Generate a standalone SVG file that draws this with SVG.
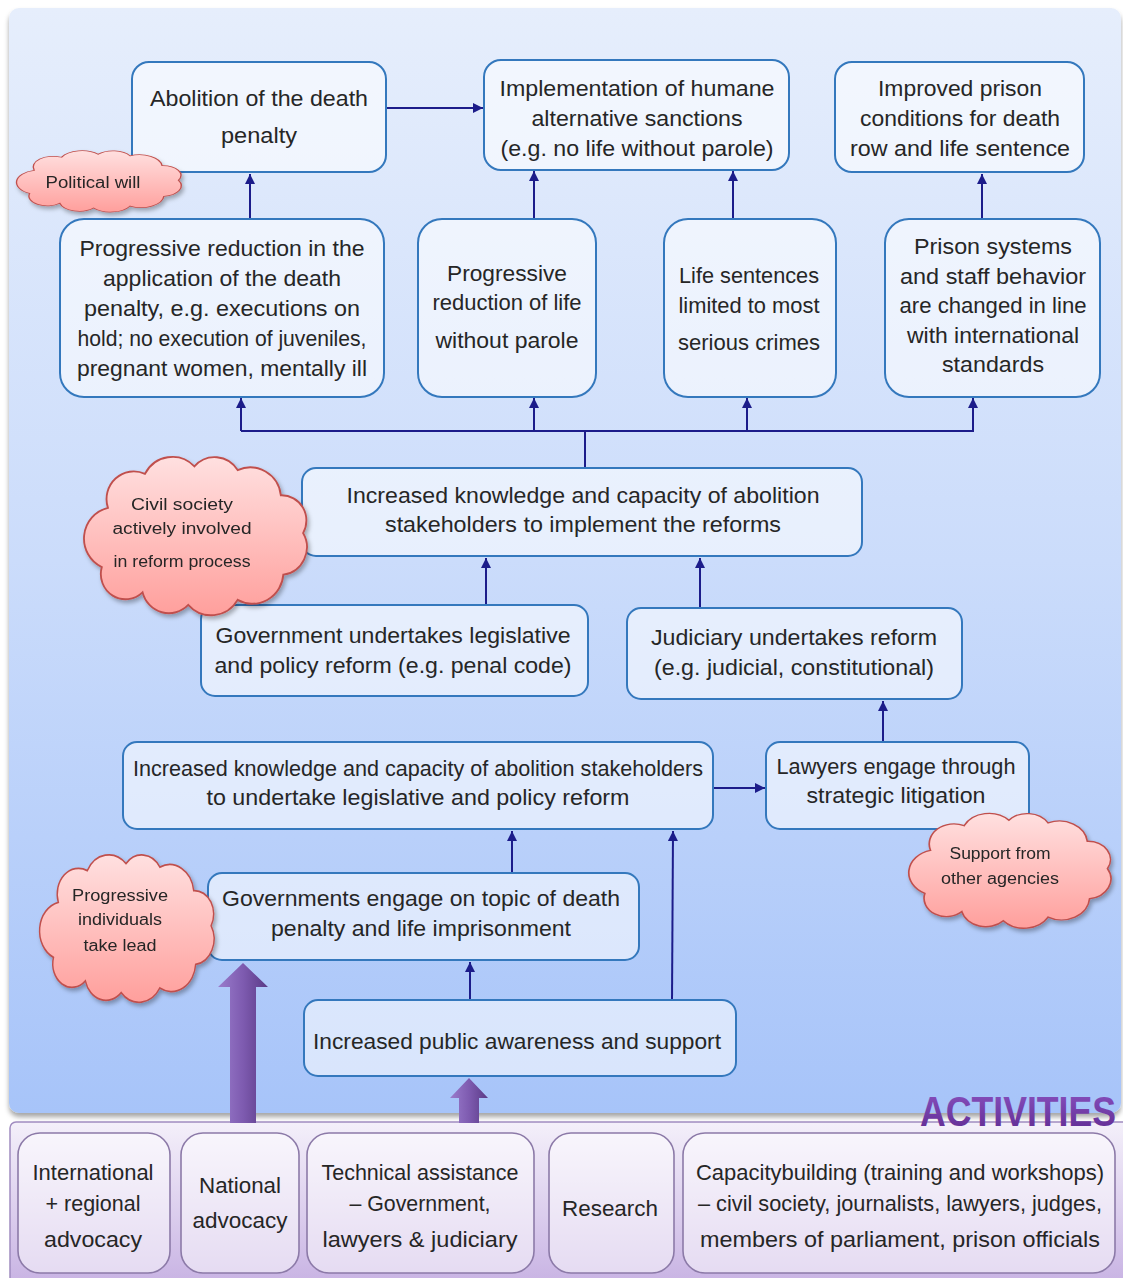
<svg xmlns="http://www.w3.org/2000/svg" width="1123" height="1278" viewBox="0 0 1123 1278">
<defs>
  <linearGradient id="gPanel" x1="0" y1="0" x2="0" y2="1">
    <stop offset="0" stop-color="#e6eefc"/>
    <stop offset="0.5" stop-color="#cbdcfb"/>
    <stop offset="1" stop-color="#a7c4f9"/>
  </linearGradient>
  <linearGradient id="gAct" x1="0" y1="0" x2="0" y2="1">
    <stop offset="0" stop-color="#f4f0fa"/>
    <stop offset="1" stop-color="#c6b0e2"/>
  </linearGradient>
  <linearGradient id="gCloud" x1="0" y1="0" x2="0" y2="1">
    <stop offset="0" stop-color="#ffe0e0"/>
    <stop offset="1" stop-color="#ff9f9c"/>
  </linearGradient>
  <linearGradient id="gBig" x1="0" y1="0" x2="1" y2="0">
    <stop offset="0" stop-color="#9a7ccc"/>
    <stop offset="0.5" stop-color="#7e5bb0"/>
    <stop offset="1" stop-color="#5a3a86"/>
  </linearGradient>
  <linearGradient id="gTitle" x1="0" y1="0" x2="0" y2="1">
    <stop offset="0" stop-color="#8a52c0"/>
    <stop offset="1" stop-color="#5e2a90"/>
  </linearGradient>
  <filter id="shadow" x="-10%" y="-10%" width="120%" height="130%">
    <feDropShadow dx="2" dy="3" stdDeviation="2" flood-color="#000" flood-opacity="0.3"/>
  </filter>
  <filter id="pshadow" x="-2%" y="-2%" width="104%" height="104%">
    <feDropShadow dx="0" dy="4" stdDeviation="2.5" flood-color="#000" flood-opacity="0.35"/>
  </filter>
  <marker id="ah" viewBox="0 0 10 10" refX="10" refY="5" markerWidth="5" markerHeight="5" orient="auto" markerUnits="strokeWidth">
    <path d="M0,0 L10,5 L0,10 z" fill="#1c1c8a"/>
  </marker>
  <path id="cloud" d="M30,45 A22,22 0 0 1 60,18 A25,25 0 0 1 100,12 A22,22 0 0 1 135,15 A25,25 0 0 1 170,35 A20,20 0 0 1 188,65 A22,22 0 0 1 172,98 A25,25 0 0 1 135,118 A25,25 0 0 1 95,122 A22,22 0 0 1 58,112 A20,20 0 0 1 25,92 A25,25 0 0 1 30,45 Z"/>
  <style>
    .box { fill: #ffffff; fill-opacity: 0.55; stroke: #3478bd; stroke-width: 2; }
    .act { fill: #ffffff; fill-opacity: 0.5; stroke: #8c7aa8; stroke-width: 1.6; }
    .cloud { fill: url(#gCloud); stroke: #c0504d; stroke-width: 1.5; }
    .t { font-family: "Liberation Sans", Arial, sans-serif; font-size: 22px; fill: #262626; text-anchor: middle; }
    .c { font-family: "Liberation Sans", Arial, sans-serif; font-size: 16px; fill: #262626; text-anchor: middle; }
    .conn line, .conn path { stroke: #1c1c8a; stroke-width: 2; fill: none; }
  </style>
</defs>

<!-- background panels -->
<rect x="0" y="0" width="1123" height="1278" fill="#ffffff"/>
<rect x="9" y="8" width="1112" height="1105" rx="10" fill="url(#gPanel)" filter="url(#pshadow)"/>
<rect x="10" y="1122" width="1123" height="170" rx="6" fill="url(#gAct)" stroke="#a08cc0" stroke-width="1.5"/>
<text x="1116" y="1126" font-family="Liberation Sans, Arial, sans-serif" font-size="42" font-weight="bold" fill="url(#gTitle)" text-anchor="end" textLength="196" lengthAdjust="spacingAndGlyphs">ACTIVITIES</text>

<!-- connectors -->
<g id="connectors" class="conn">
  <line x1="386" y1="108" x2="483" y2="108" marker-end="url(#ah)"/>
  <line x1="250" y1="220" x2="250" y2="174" marker-end="url(#ah)"/>
  <line x1="534" y1="220" x2="534" y2="171" marker-end="url(#ah)"/>
  <line x1="733" y1="220" x2="733" y2="171" marker-end="url(#ah)"/>
  <line x1="982" y1="220" x2="982" y2="174" marker-end="url(#ah)"/>
  <path d="M585,468 V431 M241,431 H973"/>
  <line x1="241" y1="431" x2="241" y2="398" marker-end="url(#ah)"/>
  <line x1="534" y1="431" x2="534" y2="398" marker-end="url(#ah)"/>
  <line x1="747" y1="431" x2="747" y2="398" marker-end="url(#ah)"/>
  <line x1="973" y1="432" x2="973" y2="398" marker-end="url(#ah)"/>
  <line x1="486" y1="606" x2="486" y2="558" marker-end="url(#ah)"/>
  <line x1="700" y1="608" x2="700" y2="558" marker-end="url(#ah)"/>
  <line x1="883" y1="742" x2="883" y2="701" marker-end="url(#ah)"/>
  <line x1="713" y1="788" x2="765" y2="788" marker-end="url(#ah)"/>
  <line x1="512" y1="873" x2="512" y2="831" marker-end="url(#ah)"/>
  <line x1="672" y1="1000" x2="673" y2="831" marker-end="url(#ah)"/>
  <line x1="470" y1="1000" x2="470" y2="962" marker-end="url(#ah)"/>
  <polygon points="243,963 268,987 256,987 256,1123 230,1123 230,987 218,987" fill="url(#gBig)" stroke="none"/>
  <polygon points="469,1078 488,1098 479,1098 479,1123 459,1123 459,1098 450,1098" fill="url(#gBig)" stroke="none"/>
</g>

<!-- outcome nodes -->
<g id="n-abolition">
  <rect class="box" x="132" y="62" width="254" height="110" rx="17"/>
  <text class="t" x="259" y="106" textLength="218" lengthAdjust="spacingAndGlyphs">Abolition of the death</text>
  <text class="t" x="259" y="143" textLength="76" lengthAdjust="spacingAndGlyphs">penalty</text>
</g>
<g id="n-implementation">
  <rect class="box" x="484" y="60" width="305" height="110" rx="17"/>
  <text class="t" x="637" y="96" textLength="275" lengthAdjust="spacingAndGlyphs">Implementation of humane</text>
  <text class="t" x="637" y="126" textLength="211" lengthAdjust="spacingAndGlyphs">alternative sanctions</text>
  <text class="t" x="637" y="156" textLength="273" lengthAdjust="spacingAndGlyphs">(e.g. no life without parole)</text>
</g>
<g id="n-improved">
  <rect class="box" x="835" y="62" width="249" height="110" rx="17"/>
  <text class="t" x="960" y="96" textLength="164" lengthAdjust="spacingAndGlyphs">Improved prison</text>
  <text class="t" x="960" y="126" textLength="200" lengthAdjust="spacingAndGlyphs">conditions for death</text>
  <text class="t" x="960" y="156" textLength="220" lengthAdjust="spacingAndGlyphs">row and life sentence</text>
</g>
<g id="n-reduction-dp">
  <rect class="box" x="60" y="219" width="324" height="178" rx="24"/>
  <text class="t" x="222" y="256" textLength="285" lengthAdjust="spacingAndGlyphs">Progressive reduction in the</text>
  <text class="t" x="222" y="286" textLength="238" lengthAdjust="spacingAndGlyphs">application of the death</text>
  <text class="t" x="222" y="316" textLength="276" lengthAdjust="spacingAndGlyphs">penalty, e.g. executions on</text>
  <text class="t" x="222" y="346" textLength="289" lengthAdjust="spacingAndGlyphs">hold; no execution of juveniles,</text>
  <text class="t" x="222" y="376" textLength="290" lengthAdjust="spacingAndGlyphs">pregnant women, mentally ill</text>
</g>
<g id="n-reduction-life">
  <rect class="box" x="418" y="219" width="178" height="178" rx="24"/>
  <text class="t" x="507" y="281" textLength="120" lengthAdjust="spacingAndGlyphs">Progressive</text>
  <text class="t" x="507" y="310" textLength="149" lengthAdjust="spacingAndGlyphs">reduction of life</text>
  <text class="t" x="507" y="348" textLength="143" lengthAdjust="spacingAndGlyphs">without parole</text>
</g>
<g id="n-life-sentences">
  <rect class="box" x="664" y="219" width="172" height="178" rx="24"/>
  <text class="t" x="749" y="283" textLength="140" lengthAdjust="spacingAndGlyphs">Life sentences</text>
  <text class="t" x="749" y="313" textLength="141" lengthAdjust="spacingAndGlyphs">limited to most</text>
  <text class="t" x="749" y="350" textLength="142" lengthAdjust="spacingAndGlyphs">serious crimes</text>
</g>
<g id="n-prison-systems">
  <rect class="box" x="885" y="219" width="215" height="178" rx="24"/>
  <text class="t" x="993" y="254" textLength="158" lengthAdjust="spacingAndGlyphs">Prison systems</text>
  <text class="t" x="993" y="284" textLength="186" lengthAdjust="spacingAndGlyphs">and staff behavior</text>
  <text class="t" x="993" y="313" textLength="187" lengthAdjust="spacingAndGlyphs">are changed in line</text>
  <text class="t" x="993" y="343" textLength="172" lengthAdjust="spacingAndGlyphs">with international</text>
  <text class="t" x="993" y="372" textLength="102" lengthAdjust="spacingAndGlyphs">standards</text>
</g>
<g id="n-capacity-reforms">
  <rect class="box" x="302" y="468" width="560" height="88" rx="14"/>
  <text class="t" x="583" y="503" textLength="473" lengthAdjust="spacingAndGlyphs">Increased knowledge and capacity of abolition</text>
  <text class="t" x="583" y="532" textLength="396" lengthAdjust="spacingAndGlyphs">stakeholders to implement the reforms</text>
</g>
<g id="n-government">
  <rect class="box" x="201" y="605" width="387" height="91" rx="14"/>
  <text class="t" x="393" y="643" textLength="355" lengthAdjust="spacingAndGlyphs">Government undertakes legislative</text>
  <text class="t" x="393" y="673" textLength="357" lengthAdjust="spacingAndGlyphs">and policy reform (e.g. penal code)</text>
</g>
<g id="n-judiciary">
  <rect class="box" x="627" y="608" width="335" height="91" rx="14"/>
  <text class="t" x="794" y="645" textLength="286" lengthAdjust="spacingAndGlyphs">Judiciary undertakes reform</text>
  <text class="t" x="794" y="675" textLength="280" lengthAdjust="spacingAndGlyphs">(e.g. judicial, constitutional)</text>
</g>
<g id="n-capacity-legislative">
  <rect class="box" x="123" y="742" width="590" height="87" rx="14"/>
  <text class="t" x="418" y="776" textLength="570" lengthAdjust="spacingAndGlyphs">Increased knowledge and capacity of abolition stakeholders</text>
  <text class="t" x="418" y="805" textLength="423" lengthAdjust="spacingAndGlyphs">to undertake legislative and policy reform</text>
</g>
<g id="n-lawyers">
  <rect class="box" x="766" y="742" width="263" height="87" rx="14"/>
  <text class="t" x="896" y="774" textLength="239" lengthAdjust="spacingAndGlyphs">Lawyers engage through</text>
  <text class="t" x="896" y="803" textLength="179" lengthAdjust="spacingAndGlyphs">strategic litigation</text>
</g>
<g id="n-governments-engage">
  <rect class="box" x="208" y="873" width="431" height="87" rx="14"/>
  <text class="t" x="421" y="906" textLength="398" lengthAdjust="spacingAndGlyphs">Governments engage on topic of death</text>
  <text class="t" x="421" y="936" textLength="300" lengthAdjust="spacingAndGlyphs">penalty and life imprisonment</text>
</g>
<g id="n-public">
  <rect class="box" x="304" y="1000" width="432" height="76" rx="14"/>
  <text class="t" x="517" y="1049" textLength="408" lengthAdjust="spacingAndGlyphs">Increased public awareness and support</text>
</g>

<!-- assumption clouds -->
<g id="cloud-political-will" filter="url(#shadow)">
  <use href="#cloud" class="cloud" transform="translate(6.8,148.5) scale(0.913,0.488)"/>
  <text class="c" x="93" y="188" textLength="95" lengthAdjust="spacingAndGlyphs">Political will</text>
</g>
<g id="cloud-civil-society" filter="url(#shadow)">
  <use href="#cloud" class="cloud" transform="translate(70.9,451.2) scale(1.235,1.26)"/>
  <text class="c" x="182" y="510" textLength="102" lengthAdjust="spacingAndGlyphs">Civil society</text>
  <text class="c" x="182" y="534" textLength="139" lengthAdjust="spacingAndGlyphs">actively involved</text>
  <text class="c" x="182" y="567" textLength="137" lengthAdjust="spacingAndGlyphs">in reform process</text>
</g>
<g id="cloud-support" filter="url(#shadow)">
  <use href="#cloud" class="cloud" transform="translate(896.9,809.3) scale(1.12,0.913)"/>
  <text class="c" x="1000" y="859" textLength="101" lengthAdjust="spacingAndGlyphs">Support from</text>
  <text class="c" x="1000" y="884" textLength="118" lengthAdjust="spacingAndGlyphs">other agencies</text>
</g>
<g id="cloud-progressive" filter="url(#shadow)">
  <use href="#cloud" class="cloud" transform="translate(29.3,849.5) scale(0.967,1.173)"/>
  <text class="c" x="120" y="901" textLength="96" lengthAdjust="spacingAndGlyphs">Progressive</text>
  <text class="c" x="120" y="925" textLength="84" lengthAdjust="spacingAndGlyphs">individuals</text>
  <text class="c" x="120" y="951" textLength="73" lengthAdjust="spacingAndGlyphs">take lead</text>
</g>

<!-- activities -->
<g id="a-international">
  <rect class="act" x="18" y="1133" width="152" height="140" rx="22"/>
  <text class="t" x="93" y="1180" textLength="121" lengthAdjust="spacingAndGlyphs">International</text>
  <text class="t" x="93" y="1211" textLength="95" lengthAdjust="spacingAndGlyphs">+ regional</text>
  <text class="t" x="93" y="1247" textLength="98" lengthAdjust="spacingAndGlyphs">advocacy</text>
</g>
<g id="a-national">
  <rect class="act" x="181" y="1133" width="118" height="140" rx="22"/>
  <text class="t" x="240" y="1193" textLength="82" lengthAdjust="spacingAndGlyphs">National</text>
  <text class="t" x="240" y="1228" textLength="95" lengthAdjust="spacingAndGlyphs">advocacy</text>
</g>
<g id="a-technical">
  <rect class="act" x="307" y="1133" width="227" height="140" rx="22"/>
  <text class="t" x="420" y="1180" textLength="197" lengthAdjust="spacingAndGlyphs">Technical assistance</text>
  <text class="t" x="420" y="1211" textLength="141" lengthAdjust="spacingAndGlyphs">– Government,</text>
  <text class="t" x="420" y="1247" textLength="195" lengthAdjust="spacingAndGlyphs">lawyers &amp; judiciary</text>
</g>
<g id="a-research">
  <rect class="act" x="549" y="1133" width="125" height="140" rx="22"/>
  <text class="t" x="610" y="1216" textLength="96" lengthAdjust="spacingAndGlyphs">Research</text>
</g>
<g id="a-capacity">
  <rect class="act" x="683" y="1133" width="432" height="140" rx="22"/>
  <text class="t" x="900" y="1180" textLength="408" lengthAdjust="spacingAndGlyphs">Capacitybuilding (training and workshops)</text>
  <text class="t" x="900" y="1211" textLength="404" lengthAdjust="spacingAndGlyphs">– civil society, journalists, lawyers, judges,</text>
  <text class="t" x="900" y="1247" textLength="400" lengthAdjust="spacingAndGlyphs">members of parliament, prison officials</text>
</g>
</svg>
